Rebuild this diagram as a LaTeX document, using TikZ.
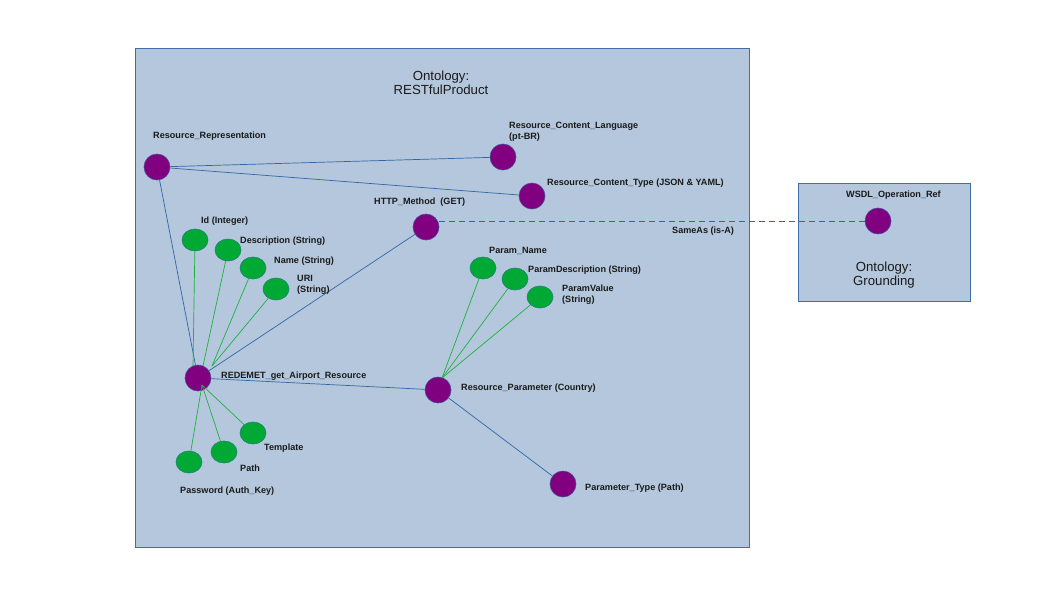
\documentclass[tikz,border=0pt]{standalone}
\usepackage{fontspec}
\setmainfont{Liberation Sans}
\usetikzlibrary{shapes.geometric}
\definecolor{boxfill}{HTML}{B4C7DC}
\definecolor{boxline}{HTML}{3F6EA8}
\definecolor{edge}{HTML}{3465A4}
\definecolor{gline}{HTML}{1FB040}
\definecolor{gfill}{HTML}{00A933}
\definecolor{pfill}{HTML}{800080}
\definecolor{txt}{HTML}{1A1A1A}
\begin{document}
\begin{tikzpicture}[x=1pt,y=-1pt,
  purp/.style={circle,fill=pfill,draw=edge!70!pfill,line width=0.6pt,minimum size=26pt,inner sep=0pt},
  grn/.style={ellipse,fill=gfill,draw=edge!60!gfill,line width=0.6pt,minimum width=26pt,minimum height=22pt,inner sep=0pt},
  lbl/.style={anchor=base west,inner sep=0pt,font=\fontsize{9.1}{10.6}\selectfont\bfseries,text=txt,align=left},
  ttl/.style={anchor=base,inner sep=0pt,font=\fontsize{13.2}{14}\selectfont,text=txt,align=center},
  bl/.style={draw=edge,line width=0.7pt},
  gl/.style={draw=gline,line width=0.7pt}]
\useasboundingbox (0,0) rectangle (1058,595);
\fill[white] (0,0) rectangle (1058,595);
% boxes
\draw[fill=boxfill,draw=boxline,line width=0.8pt] (135,48) rectangle (749,547);
\draw[fill=boxfill,draw=boxline,line width=0.8pt] (798,183) rectangle (970,301);
\node[ttl] (t1) at (441,80) {Ontology:};
\node[ttl] (t2) at (441,94) {RESTfulProduct};
\node[ttl] (t3) at (884,271) {Ontology:};
\node[ttl] (t4) at (884,285) {Grounding};
% coordinates for converging line ends
\coordinate (redTop1) at (193,366);
\coordinate (redTop2) at (203,366);
\coordinate (redTop3) at (212,366);
\coordinate (redBot) at (202,385);
\coordinate (rpTop) at (442,378);
% purple nodes
\node[purp] (rr) at (157,167) {};
\node[purp] (rcl) at (503,157) {};
\node[purp] (rct) at (532,196) {};
\node[purp] (http) at (426,227) {};
\node[purp] (red) at (198,378) {};
\node[purp] (rp) at (438,390) {};
\node[purp] (pt) at (563,484) {};
\node[purp] (wsdl) at (878,221) {};
% green nodes
\node[grn] (id) at (195,240) {};
\node[grn] (desc) at (228,250) {};
\node[grn] (name) at (253,268) {};
\node[grn] (uri) at (276,289) {};
\node[grn] (tmpl) at (253,433) {};
\node[grn] (path) at (224,452) {};
\node[grn] (pwd) at (189,462) {};
\node[grn] (pn) at (483,268) {};
\node[grn] (pd) at (515,279) {};
\node[grn] (pv) at (540,297) {};
% blue edges
\draw[bl] (rr) -- (rcl);
\draw[bl] (rr) -- (rct);
\draw[bl] (rr) -- (red);
\draw[bl] (http) -- (red);
\draw[bl] (red) -- (rp);
\draw[bl] (rp) -- (pt);
\draw[draw=edge,line width=0.8pt,dash pattern=on 6pt off 4pt] (wsdl.west) -- (wsdl.west -| http.east);
% green edges
\draw[gl] (id) -- (redTop1);
\draw[gl] (desc) -- (redTop2);
\draw[gl] (name) -- (redTop3);
\draw[gl] (uri) -- (redTop3);
\draw[gl] (tmpl) -- (redBot);
\draw[gl] (path) -- (redBot);
\draw[gl] (pwd) -- (redBot);
\draw[gl] (pn) -- (rpTop);
\draw[gl] (pd) -- (rpTop);
\draw[gl] (pv) -- (rpTop);
% labels
\node[lbl] (lrr) at (153,138) {Resource\_Representation};
\node[lbl] (lrcl) at (509,139) {Resource\_Content\_Language\\(pt-BR)};
\node[lbl] (lrct) at (547,185) {Resource\_Content\_Type (JSON \& YAML)};
\node[lbl] (lhttp) at (374,204) {HTTP\_Method\ \ (GET)};
\node[lbl] (lsame) at (672,233) {SameAs (is-A)};
\node[lbl] (lid) at (201,223) {Id (Integer)};
\node[lbl] (ldesc) at (240,243) {Description (String)};
\node[lbl] (lname) at (274,263) {Name (String)};
\node[lbl] (luri) at (297,292) {URI\\(String)};
\node[lbl] (lred) at (221,378) {REDEMET\_get\_Airport\_Resource};
\node[lbl] (ltmpl) at (264,450) {Template};
\node[lbl] (lpath) at (240,471) {Path};
\node[lbl] (lpwd) at (180,493) {Password (Auth\_Key)};
\node[lbl] (lpn) at (489,253) {Param\_Name};
\node[lbl] (lpd) at (528,272) {ParamDescription (String)};
\node[lbl] (lpv) at (562,302) {ParamValue\\(String)};
\node[lbl] (lrp) at (461,390) {Resource\_Parameter (Country)};
\node[lbl] (lpt) at (585,490) {Parameter\_Type (Path)};
\node[lbl] (lwsdl) at (846,197) {WSDL\_Operation\_Ref};
\end{tikzpicture}
\end{document}
